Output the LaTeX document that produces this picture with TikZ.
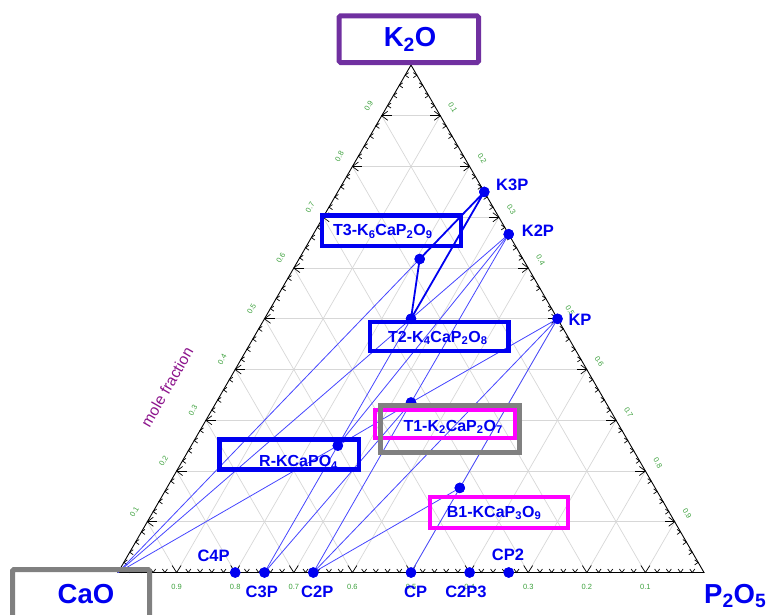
\documentclass[tikz,border=0pt]{standalone}
\usepackage{fontspec}
\setmainfont{Liberation Sans}
\definecolor{tieblue}{RGB}{70,70,255}
\definecolor{lblblue}{RGB}{0,0,240}
\definecolor{kpurple}{RGB}{112,48,160}
\definecolor{bgray}{RGB}{128,128,128}
\definecolor{mag}{RGB}{255,0,255}
\definecolor{gridgray}{RGB}{215,215,215}
\definecolor{numgreen}{RGB}{60,160,60}
\definecolor{molepurple}{RGB}{140,20,140}
\tikzset{
  gridline/.style={draw=gridgray, line width=0.7pt},
  tickline/.style={draw=black, line width=0.7pt},
  tie/.style={draw=tieblue, line width=0.8pt},
  tiethick/.style={draw=lblblue, line width=1.8pt},
  dot/.style={circle, fill=lblblue, inner sep=0pt, minimum size=10.5pt},
  ptlabel/.style={text=lblblue, font=\fontsize{16.5}{18}\selectfont\bfseries, inner sep=0pt},
  biglabel/.style={text=lblblue, font=\fontsize{27.5}{30}\selectfont\bfseries, inner sep=0pt},
  boxlabel/.style={text=lblblue, font=\fontsize{16}{18}\selectfont\bfseries, inner sep=0pt},
  num/.style={text=numgreen, font=\fontsize{7.5}{8}\selectfont, inner sep=0pt},
  bluebox/.style={draw=lblblue, line width=4.5pt},
  magbox/.style={draw=mag, line width=4pt},
  graybox/.style={draw=bgray, line width=5pt},
}
\begin{document}
\begin{tikzpicture}[x=1pt,y=-1pt]
\useasboundingbox (0,0) rectangle (767,614);
% grid
\foreach \i in {1,...,9}{
  \pgfmathsetmacro\kk{\i/10}
  \pgfmathsetmacro\yy{572.5-507.5*\kk}
  \draw[gridline] ({118+293*\kk},\yy) -- ({704-293*\kk},\yy);
  \draw[gridline] ({118+586*\kk},572.5) -- ({118+586*\kk+293*(1-\kk)},{572.5-507.5*(1-\kk)});
  \draw[gridline] ({118+586*\kk},572.5) -- ({118+293*\kk},{572.5-507.5*\kk});
}
% triangle
\coordinate (VK) at (411,65);
\coordinate (VC) at (118,572.5);
\coordinate (VP) at (704,572.5);
\draw[tickline, line width=0.9pt] (VK) -- (VC) -- (VP) -- cycle;
% ticks
\foreach \j in {1,...,49}{
  \pgfmathsetmacro\kk{\j/50}
  \pgfmathsetmacro\xl{118+293*\kk}
  \pgfmathsetmacro\xr{704-293*\kk}
  \pgfmathsetmacro\yy{572.5-507.5*\kk}
  \pgfmathsetmacro\xb{118+586*\kk}
  \pgfmathtruncatemacro\mm{mod(\j,5)}
  \ifnum\mm=0
    \draw[tickline] ({\xl+6},{\yy-4.5}) -- (\xl,\yy) -- ({\xl+6},{\yy+4.5});
    \draw[tickline] (\xl,\yy) -- ({\xl+10},\yy);
    \draw[tickline] ({\xr-6},{\yy-4.5}) -- (\xr,\yy) -- ({\xr-6},{\yy+4.5});
    \draw[tickline] (\xr,\yy) -- ({\xr-10},\yy);
    \draw[tickline] ({\xb-4.5},{572.5-7}) -- (\xb,572.5) -- ({\xb+4.5},{572.5-7});
  \else
    \draw[tickline] ({\xl+3.5},{\yy-2.5}) -- (\xl,\yy) -- ({\xl+3.5},{\yy+2.5});
    \draw[tickline] ({\xr-3.5},{\yy-2.5}) -- (\xr,\yy) -- ({\xr-3.5},{\yy+2.5});
    \draw[tickline] ({\xb-2.5},{572.5-3.5}) -- (\xb,572.5) -- ({\xb+2.5},{572.5-3.5});
  \fi
}
% axis numbers
\foreach \i in {1,...,9}{
  \pgfmathsetmacro\kk{\i/10}
  \node[num, rotate=60] (nl\i) at ({118+293*\kk-13},{572.5-507.5*\kk-10}) {0.\i};
  \node[num, rotate=-60] (nr\i) at ({411+293*\kk+12.5},{65+507.5*\kk-8}) {0.\i};
  \node[num] (nb\i) at ({118+586*(1-\kk)},587) {0.\i};
}
\node[text=molepurple, font=\fontsize{15.5}{16}\selectfont, rotate=60, inner sep=0pt] (mf) at (167,387) {mole fraction};
% points
\coordinate (CaO) at (118,572.5);
\node[dot] (K3P) at (484.3,191.9) {};
\node[dot] (K2P) at (508.7,234.2) {};
\node[dot] (KP) at (557.5,318.8) {};
\node[dot] (C4P) at (235.2,572.5) {};
\node[dot] (C3P) at (264.5,572.5) {};
\node[dot] (C2P) at (313.3,572.5) {};
\node[dot] (CP) at (411,572.5) {};
\node[dot] (C2P3) at (469.6,572.5) {};
\node[dot] (CP2) at (508.7,572.5) {};
\node[dot] (T3) at (419.7,259) {};
\node[dot] (T2) at (411,318.8) {};
\node[dot] (T1) at (411,402.5) {};
\node[dot] (R) at (337.8,445.6) {};
\node[dot] (B1) at (459.8,487.9) {};
% tie lines
\draw[tie] (CaO) -- (T3.center);
\draw[tie] (CaO) -- (T2.center);
\draw[tie] (CaO) -- (R.center);
\draw[tie] (C3P.center) -- (R.center);
\draw[tie] (C3P.center) -- (T1.center);
\draw[tie] (C2P.center) -- (T1.center);
\draw[tie] (C2P.center) -- (KP.center);
\draw[tie] (C2P.center) -- (B1.center);
\draw[tie] (CP.center) -- (B1.center);
\draw[tie] (B1.center) -- (KP.center);
\draw[tie] (R.center) -- (T1.center);
\draw[tie] (T1.center) -- (KP.center);
\draw[tie] (T1.center) -- (K2P.center);
\draw[tie] (T2.center) -- (K2P.center);
\draw[tie] (R.center) -- (K2P.center);
\draw[tie] (R.center) -- (T2.center);
\draw[tiethick] (K3P.center) -- (T3.center) -- (T2.center) -- (K3P.center);
% redraw dots on top
\foreach \p in {K3P,K2P,KP,C4P,C3P,C2P,CP,C2P3,CP2,T3,T2,T1,R,B1}{
  \fill[lblblue] (\p) circle (5.25pt);
}
% point labels
\node[ptlabel, anchor=base west] (lK3P) at (496,190.7) {K3P};
\node[ptlabel, anchor=base west] (lK2P) at (521.7,236.7) {K2P};
\node[ptlabel, anchor=base west] (lKP) at (568.3,325) {KP};
\node[ptlabel, anchor=base west] (lC4P) at (197.3,561.7) {C4P};
\node[ptlabel, anchor=base west] (lC3P) at (245.5,597) {C3P};
\node[ptlabel, anchor=base west] (lC2P) at (301,597) {C2P};
\node[ptlabel, anchor=base west] (lCP) at (404,597) {CP};
\node[ptlabel, anchor=base west] (lC2P3) at (445.1,597) {C2P3};
\node[ptlabel, anchor=base west] (lCP2) at (491.7,560) {CP2};
% compound labels
\node[boxlabel, anchor=base west] (tT3) at (333,235.7) {T3-K\textsubscript{6}CaP\textsubscript{2}O\textsubscript{9}};
\node[boxlabel, anchor=base west] (tT2) at (388,342.3) {T2-K\textsubscript{4}CaP\textsubscript{2}O\textsubscript{8}};
\node[boxlabel, anchor=base west] (tR) at (259,466.7) {R-KCaPO\textsubscript{4}};
\node[boxlabel, anchor=base west] (tT1) at (403.3,431) {T1-K\textsubscript{2}CaP\textsubscript{2}O\textsubscript{7}};
\node[boxlabel, anchor=base west] (tB1) at (446.7,517.3) {B1-KCaP\textsubscript{3}O\textsubscript{9}};
% boxes
\draw[bluebox] (322.2,215.5) rectangle (461.1,246.1);
\draw[bluebox] (370.2,322.2) rectangle (508.5,351.1);
\draw[bluebox] (219.5,439.5) rectangle (358.8,469.5);
\draw[magbox] (375.3,410.3) rectangle (514.7,438);
\draw[graybox] (380.8,405.8) rectangle (519.2,452.5);
\draw[magbox] (430.3,497) rectangle (568,528);
% corner labels
\draw[draw=kpurple, line width=5pt, rounded corners=1.5pt] (339.2,15.8) rectangle (478.5,62.5);
\node[biglabel, anchor=base] (tK2O) at (410,46.7) {K\textsubscript{2}O};
\draw[graybox, rounded corners=1.5pt] (12.5,569.5) rectangle (149.5,622);
\node[biglabel, anchor=base] (tCaO) at (86,603.3) {CaO};
\node[biglabel, anchor=base east] (tP2O5) at (766.5,603) {P\textsubscript{2}O\textsubscript{5}};
\end{tikzpicture}
\end{document}
